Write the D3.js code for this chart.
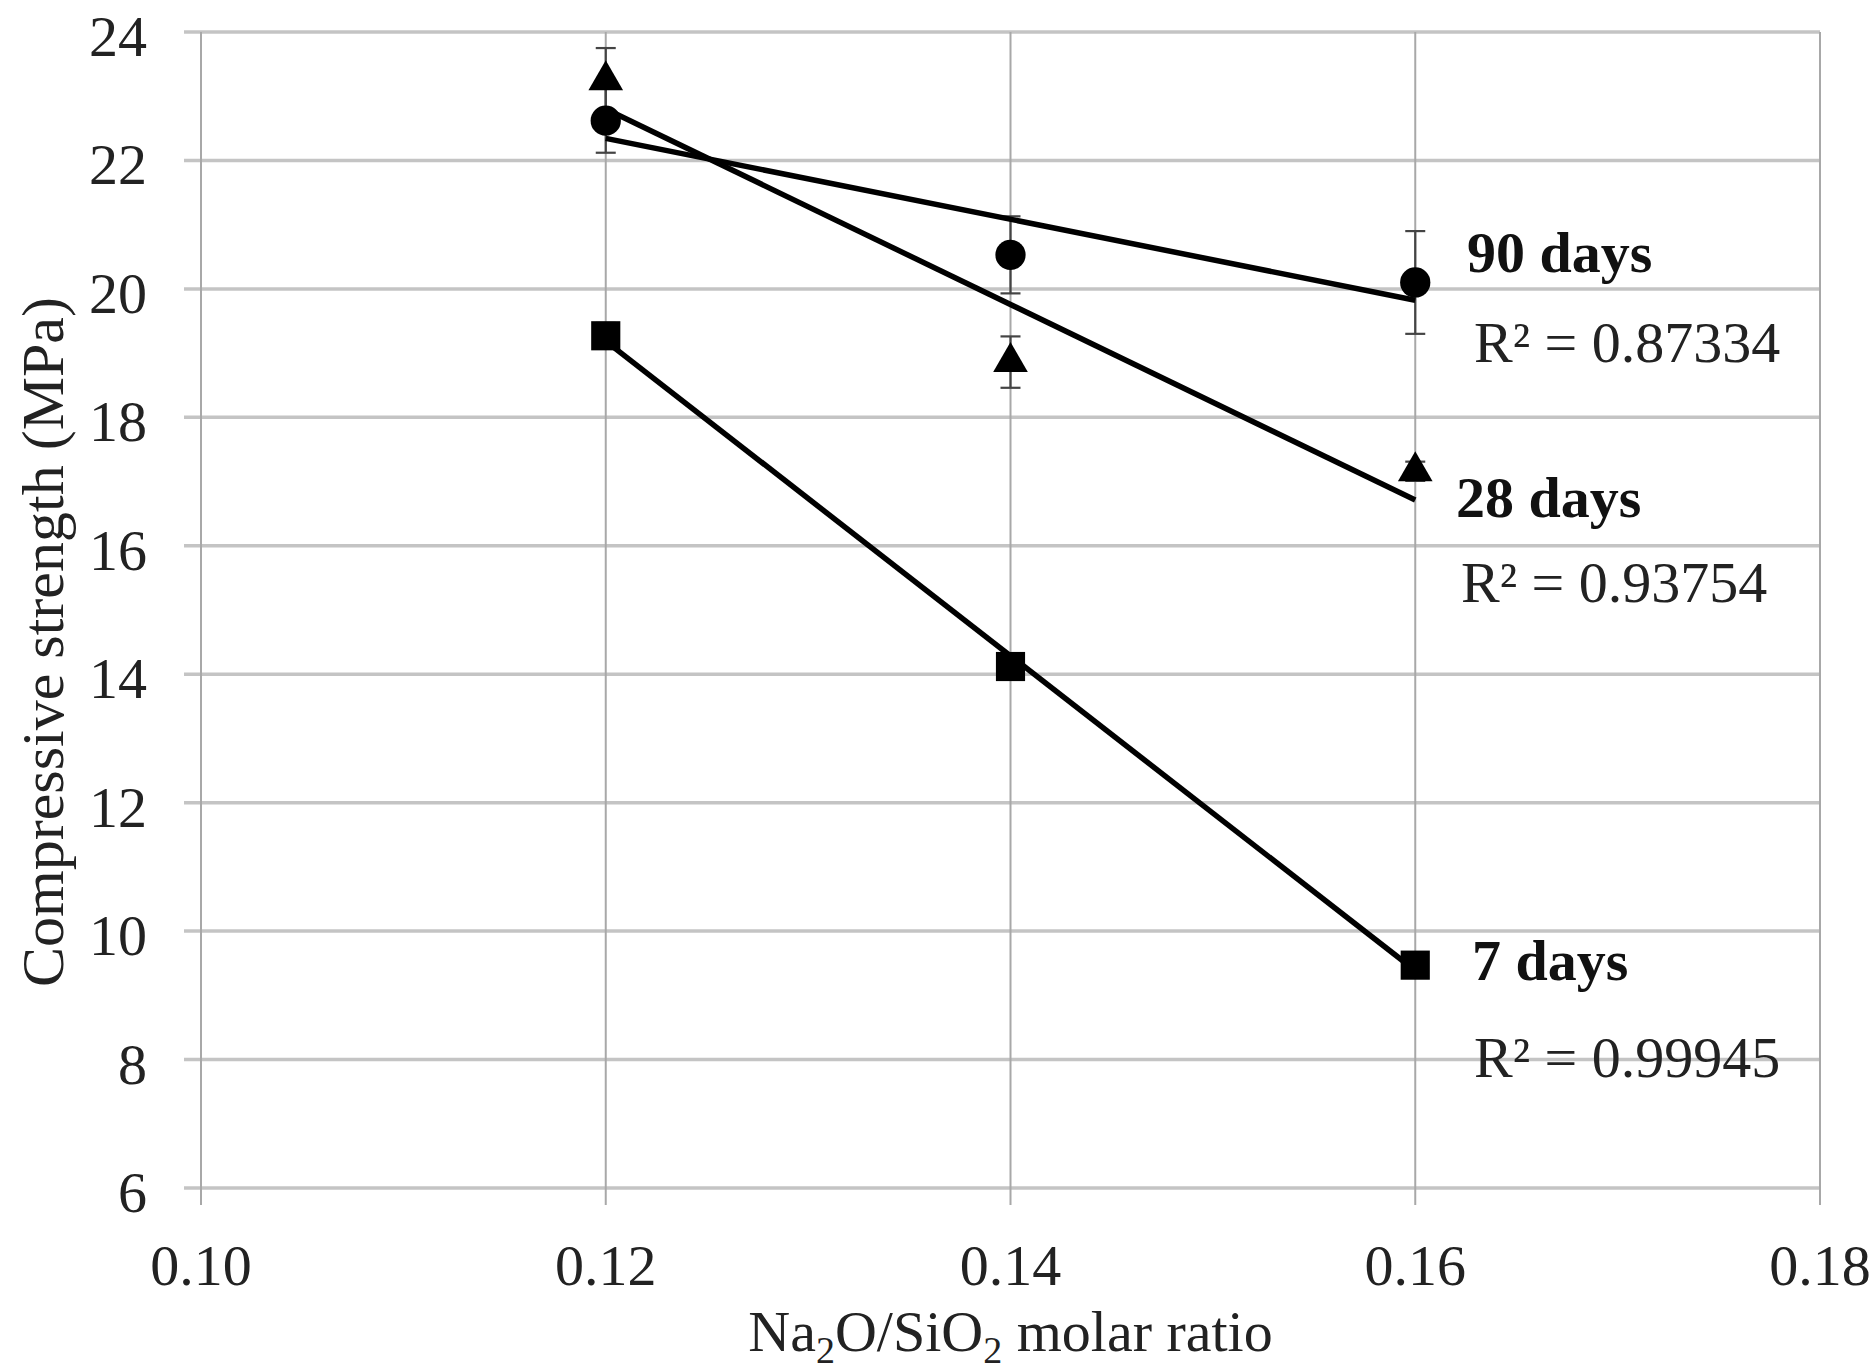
<!DOCTYPE html>
<html>
<head>
<meta charset="utf-8">
<script src="https://cdn.jsdelivr.net/npm/d3@7"></script>
<style>
  html, body { margin: 0; padding: 0; background: #fff; }
  svg { display: block; }
  text { font-family: "Liberation Serif", "Times New Roman", serif; }
</style>
</head>
<body>
<svg id="chart" width="1875" height="1371"></svg>
<script>
// ---- data ----
const ratios = [0.12, 0.14, 0.16];
const days90 = [22.62, 20.53, 20.10];
const err90  = [0.50, 0.60, 0.80];
const days28 = [23.25, 18.86, 17.16];
const err28  = [0.50, 0.40, 0.15];
const days7  = [19.27, 14.12, 9.47];
const err7   = [0.20, 0.10, 0.10];
const seriesNames = ["90 days", "28 days", "7 days"];
const r2Labels = ["R\u00B2 = 0.87334", "R\u00B2 = 0.93754", "R\u00B2 = 0.99945"];
const xTicks = [0.10, 0.12, 0.14, 0.16, 0.18];
const yTicks = [6, 8, 10, 12, 14, 16, 18, 20, 22, 24];

// ---- layout ----
const svg = d3.select("#chart");
const x = d3.scaleLinear().domain([0.10, 0.18]).range([201, 1820]);
const y = d3.scaleLinear().domain([6, 24]).range([1188, 32]);

const series = [
  { name: seriesNames[0], vals: days90, err: err90, marker: "circle",   r2: r2Labels[0], lab: [1467, 272], r2pos: [1474, 362] },
  { name: seriesNames[1], vals: days28, err: err28, marker: "triangle", r2: r2Labels[1], lab: [1456, 517], r2pos: [1461, 602] },
  { name: seriesNames[2], vals: days7,  err: err7,  marker: "square",   r2: r2Labels[2], lab: [1472, 980], r2pos: [1474, 1077] }
];

// ---- grid ----
const grid = svg.append("g");
grid.selectAll("line.h").data(yTicks).join("line")
  .attr("x1", x(0.10) - 17).attr("x2", x(0.18))
  .attr("y1", d => y(d)).attr("y2", d => y(d))
  .attr("stroke", "#c4c4c4").attr("stroke-width", 3.5);
grid.selectAll("line.v").data(xTicks).join("line")
  .attr("x1", d => x(d)).attr("x2", d => x(d))
  .attr("y1", y(24)).attr("y2", y(6) + 17)
  .attr("stroke", "#a8a8a8").attr("stroke-width", 2);

// ---- tick labels ----
svg.append("g").selectAll("text").data(yTicks).join("text")
  .attr("x", 147).attr("y", d => y(d) + 24)
  .attr("text-anchor", "end").attr("font-size", 58).attr("fill", "#222")
  .text(d => d);
svg.append("g").selectAll("text").data(xTicks).join("text")
  .attr("x", d => x(d)).attr("y", 1285)
  .attr("text-anchor", "middle").attr("font-size", 58).attr("fill", "#222")
  .text(d => d3.format(".2f")(d));

// ---- axis titles ----
const xt = svg.append("text").attr("x", x(0.14)).attr("y", 1351)
  .attr("text-anchor", "middle").attr("font-size", 58).attr("fill", "#222");
xt.append("tspan").text("Na");
xt.append("tspan").attr("font-size", 38).attr("dy", 12).text("2");
xt.append("tspan").attr("dy", -12).text("O/SiO");
xt.append("tspan").attr("font-size", 38).attr("dy", 12).text("2");
xt.append("tspan").attr("dy", -12).text(" molar ratio");

svg.append("text")
  .attr("transform", "translate(63," + 642 + ") rotate(-90)")
  .attr("text-anchor", "middle").attr("font-size", 60).attr("fill", "#222")
  .text("Compressive strength (MPa)");

// ---- error bars ----
series.forEach(s => {
  const g = svg.append("g");
  const pts = ratios.map((r, i) => ({ r, v: s.vals[i], e: s.err[i] }));
  g.selectAll("line.eb").data(pts).join("line")
    .attr("x1", d => x(d.r)).attr("x2", d => x(d.r))
    .attr("y1", d => y(d.v + d.e)).attr("y2", d => y(d.v - d.e))
    .attr("stroke", "#444").attr("stroke-width", 2.2);
  [1, -1].forEach(sign => {
    g.selectAll("line.cap" + sign).data(pts).join("line")
      .attr("x1", d => x(d.r) - 10).attr("x2", d => x(d.r) + 10)
      .attr("y1", d => y(d.v + sign * d.e)).attr("y2", d => y(d.v + sign * d.e))
      .attr("stroke", "#444").attr("stroke-width", 2.2);
  });
});

// ---- markers ----
series.forEach(s => {
  const g = svg.append("g");
  const pts = ratios.map((r, i) => ({ r, v: s.vals[i] }));
  const sym = s.marker === "circle" ? d3.symbolCircle : s.marker === "square" ? d3.symbolSquare : d3.symbolTriangle;
  const size = s.marker === "circle" ? 720 : s.marker === "square" ? 850 : 520;
  g.selectAll("path").data(pts).join("path")
    .attr("transform", d => "translate(" + x(d.r) + "," + y(d.v) + ")")
    .attr("d", d3.symbol().type(sym).size(size))
    .attr("fill", "#000");
});

// ---- linear trend lines ----
function fit(xs, ys) {
  const mx = d3.mean(xs), my = d3.mean(ys);
  const b = d3.sum(xs.map((xv, i) => (xv - mx) * (ys[i] - my))) / d3.sum(xs.map(xv => (xv - mx) ** 2));
  return xv => my + b * (xv - mx);
}
const line = d3.line().x(d => x(d[0])).y(d => y(d[1]));
series.forEach(s => {
  const f = fit(ratios, s.vals);
  const ends = d3.extent(ratios).map(r => [r, f(r)]);
  svg.append("path").attr("d", line(ends))
    .attr("fill", "none").attr("stroke", "#000").attr("stroke-width", 5.5)
    .attr("stroke-linecap", "butt");
});

// ---- labels ----
series.forEach(s => {
  svg.append("text").attr("x", s.lab[0]).attr("y", s.lab[1])
    .attr("font-size", 58).attr("font-weight", "bold").attr("fill", "#111")
    .text(s.name);
  svg.append("text").attr("x", s.r2pos[0]).attr("y", s.r2pos[1])
    .attr("font-size", 58).attr("fill", "#222")
    .text(s.r2);
});
</script>
</body>
</html>
